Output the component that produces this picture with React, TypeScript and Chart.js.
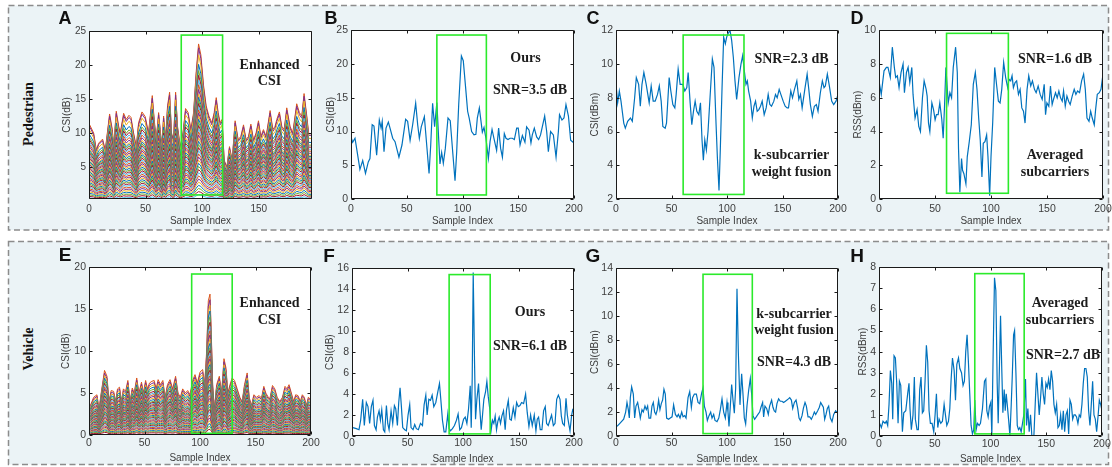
import React, { useEffect, useRef } from 'react';
import { Chart, registerables } from 'chart.js';
Chart.register(...registerables);

// ---------------- data (sample index, value) ----------------
const enhancedPedEnvelope: number[][] = [
  [0.6, 11.2], [4.1, 10], [6.5, 7.5], [8.5, 8.5], [12, 9.1], [14.4, 7.5], [18.2, 12.8], [20.6, 10.5], [21.8, 8],
  [24.1, 13.2], [26.2, 11], [27.6, 10], [30.6, 12.9], [32.9, 12], [35.3, 12.6], [37.1, 12.3], [39.4, 10], [41.8, 8],
  [43.8, 11.5], [46.8, 13.1], [49.7, 12.4], [52.6, 10], [55.9, 15.5], [57.6, 12], [59.4, 9], [61.5, 13], [62.9, 10.5],
  [64.4, 8], [65.9, 12.5], [67.6, 9], [69.4, 14], [71.2, 16], [72.9, 10], [74.7, 9], [76.5, 16], [78.2, 11], [80.6, 8],
  [83, 10], [85.3, 13.6], [87.6, 13], [90, 10.5], [92.4, 13], [94.7, 19], [96.8, 23.1], [98.8, 21.5], [101.2, 17],
  [103.5, 14], [105.9, 12.5], [108.5, 11.5], [110.6, 13], [112.4, 15.2], [114.1, 13], [115.9, 11.5], [117.6, 12],
  [119.4, 6], [121.8, 5], [124.1, 8], [126.5, 6], [129.1, 11.8], [131.8, 9], [134.1, 9.5], [136.5, 11.2], [138.8, 9],
  [140.9, 9.5], [143, 11.3], [145.3, 9], [147.6, 10], [149.7, 11.8], [151.8, 9.5], [154.1, 10.5], [156.5, 9.5],
  [160, 13.3], [162.4, 10.5], [164.4, 11], [165.9, 12], [168.2, 13.1], [170.3, 11], [172.4, 10.5], [174.7, 13.7],
  [177.6, 11], [180, 10], [183.5, 14.3], [185.9, 13], [188, 12.5], [190, 15.8], [192.4, 12.5], [194.1, 9.9], [197, 9.9],
];
const subcarrierGainsPed = [
  1.0, 0.975, 0.93, 0.87, 0.83, 0.8, 0.77, 0.74, 0.71, 0.68, 0.66, 0.64, 0.62, 0.6, 0.58, 0.56, 0.54, 0.52, 0.5,
  0.48, 0.46, 0.44, 0.42, 0.4, 0.38, 0.36, 0.34, 0.32, 0.3, 0.28, 0.26, 0.24, 0.22, 0.2, 0.18, 0.16, 0.14, 0.12,
  0.1, 0.08, 0.06, 0.04,
];
const oursPed: number[][] = [
  [0, 9.2], [1.5, 8.4], [3.6, 9.0], [8, 4.4], [10.5, 5.7], [13, 3.8], [15.5, 5.5], [17, 6], [19, 11], [20.6, 10.8],
  [23, 6.5], [25.4, 11.7], [27, 10.5], [28, 11.5], [29.6, 7], [31.4, 10.5], [33.5, 11.4], [35, 10.5], [37.4, 9],
  [39.5, 8.5], [43, 6.2], [45.7, 8], [49, 11.8], [50.8, 11.5], [53, 8.7], [55.3, 11], [58, 14.2], [59.8, 11],
  [61.3, 9], [63, 10.7], [65.8, 12.2], [67.9, 8], [70, 3.8], [71.5, 8], [73.2, 14.2], [75, 10.7], [77, 14.3],
  [78.6, 9], [79.8, 5.2], [81.3, 6.9], [82.8, 5.3], [84.6, 7.5], [87, 12], [89, 11.6], [91.2, 7], [93.3, 2.7],
  [94.8, 7], [96.6, 14], [99, 21.2], [100.7, 20.5], [102.8, 16.5], [104.6, 13], [106, 12], [108.2, 10], [110.3, 9.5],
  [112, 9.6], [113.3, 12], [115.1, 13.5], [116.6, 11.5], [117.8, 9.9], [119.3, 10.6], [121, 9], [123.2, 6],
  [124.7, 8.5], [126.5, 10.3], [128.2, 9], [130.6, 7.2], [132.4, 10.5], [134.2, 7.5], [135.8, 6.2], [137.5, 9.7],
  [139, 9], [140.8, 8.8], [142.6, 9], [144.7, 9], [146.5, 8.8], [148.6, 10.5], [150, 10.5], [151.6, 8], [153.7, 9.4],
  [156, 8.4], [157.5, 10.7], [159.7, 10.2], [161.4, 8.3], [162.6, 9.5], [164.4, 10.5], [166.5, 9.2], [168.3, 8.8],
  [170, 9.5], [173.7, 12.3], [175.5, 10], [177, 7], [179, 10], [181.5, 9.5], [183.9, 6.2], [186, 10], [187, 12.5],
  [189.2, 11.7], [191, 12], [192.8, 14], [195, 12.3], [197, 8.7], [200, 8.3],
];
const kFusionPed: number[][] = [
  [0, 8.8], [1.5, 7.7], [3, 8.4], [4.5, 7.8], [7, 6.5], [8.4, 6.2], [10.5, 6.6], [13, 6.8], [14.7, 6.6], [16.8, 8],
  [18.3, 9.2], [20.4, 8.8], [21.9, 7.5], [23.4, 8.8], [25.1, 9.5], [27.2, 8.8], [29.9, 7.7], [31.7, 8.7], [33.5, 7.8],
  [35.3, 7.8], [37.4, 8.2], [39, 8.7], [40.7, 7.8], [42.2, 6.3], [44.3, 6.2], [45.5, 6.5], [47.9, 9.2], [49.4, 8.4],
  [51.2, 7.6], [53, 7.4], [54.2, 8.2], [56, 9.7], [57.8, 8.8], [60.2, 8.8], [62, 8.4], [63.8, 8.6], [65, 9.5],
  [66.8, 7.7], [68.3, 6.4], [69.8, 7.2], [71.3, 7.8], [72.8, 7.2], [74.6, 7], [76.1, 7.7], [77.5, 5.5], [78.7, 4.3],
  [80, 5.5], [81.4, 4.9], [82.9, 6], [84.7, 8], [86.8, 10.3], [88.3, 9.8], [90.1, 6.5], [91.3, 4.5], [92.8, 2.5],
  [94, 5], [95.5, 8.5], [97, 11.6], [98.5, 11.2], [99.7, 11.6], [100.9, 11.8], [102.7, 12], [104.2, 11.4],
  [105.7, 10.4], [107.2, 9], [108.7, 7.9], [110.8, 9.2], [112.6, 10], [114.1, 10.5], [115.6, 9.6], [117.1, 8.8],
  [118.3, 9], [119.5, 8.4], [121.3, 7.8], [122.8, 6.8], [124.3, 7.5], [125.7, 7.8], [127.2, 7.2], [128.7, 7.3],
  [130.2, 7.5], [131.7, 7.8], [133.5, 7], [135.3, 7.4], [137.1, 8.2], [138.6, 7.6], [140.1, 7.5], [142.2, 7.8],
  [143.7, 8.2], [145.2, 8], [147, 8.5], [148.5, 8.2], [150.6, 7.8], [152.4, 7.5], [154.2, 7.4], [155.4, 7.4],
  [157.5, 8.4], [159, 8], [160.8, 8.5], [162.9, 9], [164.7, 7.9], [166.2, 8.2], [167.7, 7.4], [170.1, 8.5],
  [172.2, 9.4], [173.7, 8.5], [175.1, 7.6], [176.9, 6.9], [178.7, 7.5], [180.5, 7.6], [182, 7.2], [184.1, 8.3],
  [185.9, 9], [187.4, 8.6], [188.6, 8.7], [190.4, 9.4], [192.2, 8.7], [194.3, 7.8], [196.1, 7.6], [198.2, 7.8], [200, 8.2],
];
const averagedPed: number[][] = [
  [0, 7], [2, 6.2], [4.5, 7.6], [6.6, 7.8], [8, 7.8], [10.1, 7.2], [11.9, 9], [13.7, 7.8], [14.9, 7.2], [16.4, 7.3],
  [17.9, 6.6], [19.7, 7.5], [21.5, 8], [22.7, 6.3], [24.5, 7.5], [26, 7.8], [27.5, 6.9], [29.3, 7.8], [30.4, 6.2],
  [32.2, 4.8], [34, 5.3], [35.5, 4.3], [37, 4], [38.8, 6], [40.3, 7], [42.1, 6.5], [43, 6.1], [44.2, 4.5], [45.4, 4],
  [47.2, 5.7], [48.7, 5.3], [50.1, 4.7], [51.3, 5], [52.8, 5], [54.3, 5.7], [56.1, 4.7], [57.3, 3.6], [58.5, 5.5],
  [59.7, 7.8], [61.8, 5.7], [63.3, 6.3], [64.8, 6], [66.3, 7.8], [68.4, 9], [69.9, 7.5], [71, 3], [72.2, 0.4],
  [73.7, 2.4], [74.6, 1.7], [75.8, 1.5], [76.7, 1.2], [77.6, 0.9], [78.8, 2.5], [80.6, 3.4], [82.4, 4.4], [84.2, 6.8],
  [86, 7.5], [87.5, 6.5], [89, 4.8], [90.4, 3.5], [91.9, 1.3], [93.1, 3.3], [94.6, 3.4], [96.1, 3.8], [97.3, 2.5],
  [98.8, 0.2], [100, 2.5], [101.5, 4.5], [103.3, 7.8], [105.1, 6.7], [106.6, 5.8], [108.1, 5.7], [109.6, 6.5],
  [111.3, 8.1], [113.1, 7.2], [114.9, 6.6], [116.1, 7.1], [117.6, 7], [118.8, 7.3], [120, 6.6], [121.5, 6.9],
  [122.9, 7], [124.5, 6.2], [126, 6.5], [127.5, 5.4], [129, 5.2], [130.4, 4.5], [132.2, 6.5], [133.7, 7.3],
  [135.5, 6.7], [137, 7], [138.8, 6.5], [140.3, 6.3], [142.1, 6.7], [143.9, 6.2], [145.7, 5.9], [147.5, 6.8],
  [148.7, 5], [149.9, 5.7], [151.6, 5.5], [153.1, 6.7], [154.6, 5.6], [155.8, 5.9], [157.6, 6.3], [159.1, 6],
  [160.6, 6.4], [162.1, 6], [163.6, 5.8], [164.8, 6.4], [166.3, 5.5], [167.8, 6.1], [169.3, 5.8], [170.7, 5.6],
  [172.5, 6.1], [174.3, 6.5], [175.8, 6.2], [177.3, 6.4], [179.1, 6.3], [180.9, 7], [182.7, 7.4], [184.2, 6.5],
  [185.7, 4.8], [187.5, 4.6], [189, 5.2], [190.4, 4.8], [192.2, 4.4], [193.4, 5.3], [194.9, 6.2], [196.7, 6.3],
  [198.2, 6.5], [200, 7.4],
];
const enhancedVehEnvelope: number[][] = [
  [1.2, 3.5], [4.2, 4.5], [7.2, 4.8], [9, 3], [11, 5], [14, 7.7], [16.2, 7], [18, 4], [20, 5.3], [22.2, 5.2], [24, 4],
  [25.7, 5.5], [27.5, 5.7], [29.3, 4], [31, 5.5], [33, 5.2], [35, 6.5], [37, 4], [39, 5.6], [40.7, 5], [43, 6.8],
  [45, 5], [47.3, 6.3], [49, 5], [51, 6.5], [52.7, 5.5], [54.5, 6.2], [56.6, 6.4], [58.7, 6.5], [60.5, 5.5],
  [62.3, 6.6], [64.4, 6], [66.5, 6.5], [68.6, 4.5], [70.7, 6], [73, 6.6], [75.4, 5.5], [78, 7], [80.2, 5], [82.3, 4.5],
  [84.4, 5.5], [86.8, 5], [88.9, 5.3], [91, 4.8], [93.4, 6.5], [95.5, 7.2], [97.6, 6.2], [100, 7.5], [102.4, 7.8],
  [104.2, 6], [106, 10], [107.5, 16], [109, 16.8], [110.2, 12], [111.4, 6], [112.9, 3], [115, 6], [117.4, 7],
  [119.5, 5], [121.6, 9.1], [123.4, 8], [125.1, 5], [127, 6], [129, 6.8], [131.1, 6.5], [133.5, 5.5], [135.9, 4.5],
  [138, 4], [140.1, 6], [142.5, 7.4], [144.3, 4.5], [146.4, 3.5], [148.5, 4.8], [150.9, 4.5], [153.3, 4.7],
  [155.4, 4.4], [157.5, 5.8], [159.3, 5], [161.1, 4.6], [162.9, 4.3], [165.3, 5.9], [167.4, 5.5], [169.5, 4.5],
  [171.9, 4], [174.3, 4.5], [176.6, 5.8], [178.4, 5.5], [180.2, 6], [182.3, 5], [184.4, 4], [186.2, 4.8],
  [188.3, 4.7], [190.4, 4], [192.2, 4.8], [194, 4.5], [195.8, 3.5], [197.6, 4.5], [200, 4.2],
];
const subcarrierGainsVeh = [
  1.0, 0.96, 0.92, 0.88, 0.84, 0.8, 0.77, 0.74, 0.71, 0.68, 0.65, 0.62, 0.6, 0.58, 0.56, 0.54, 0.52, 0.5, 0.48,
  0.46, 0.44, 0.42, 0.4, 0.38, 0.36, 0.34, 0.32, 0.3, 0.28, 0.26, 0.24, 0.22, 0.2, 0.18, 0.16, 0.14, 0.12, 0.1,
  0.08, 0.06, 0.04,
];
const oursVeh: number[][] = [
  [0.9, 0.8], [3.9, 0.7], [6.3, 0.6], [7.8, 1.5], [9.6, 3.5], [11.1, 1], [12.9, 3.2], [14.4, 2.8], [15.9, 1.2],
  [17.4, 2.8], [18.9, 3.4], [20.2, 1], [21.7, 0.6], [22.9, 1.8], [24.4, 2.4], [25.6, 1.5], [26.8, 2.5], [28.3, 0.6],
  [29.5, 0.4], [31, 2.9], [32.2, 1.2], [33.4, 0.6], [35.2, 2.4], [36.7, 1.2], [38.2, 2.9], [39.4, 2.6], [40.9, 1],
  [42.1, 3.2], [43.3, 4.6], [44.5, 2.8], [45.7, 0.8], [47.5, 0.6], [49, 0.5], [50.5, 2], [52, 3], [53.2, 0.8],
  [55, 0.6], [56.5, 1.1], [58, 0.7], [59.8, 0.6], [61.7, 1.2], [63.5, 1], [65, 3], [66.5, 3.9], [67.7, 2],
  [69.2, 3.5], [70.7, 3.4], [72.2, 3.9], [73.7, 2.8], [75.5, 3.2], [77.3, 4.2], [78.8, 5], [80, 3.5], [81.5, 1.5],
  [83, 0.4], [84.5, 0.4], [86.3, 2.1], [87.5, 0.7], [88.7, 0.5], [90.5, 0.7], [92.3, 1], [94.1, 1.5], [95.6, 2.1],
  [97.1, 0.6], [98.6, 0.8], [100.5, 1.6], [102, 1.8], [103.5, 1.2], [105, 2.6], [106.5, 4.8], [107.4, 0.8],
  [108.3, 5.5], [109.2, 15.6], [110.4, 7], [111.3, 1.6], [112.5, 3.5], [114, 5], [115.2, 2.5], [116.4, 0.6],
  [117.6, 2], [118.8, 3.5], [120.3, 4.2], [121.5, 5.2], [122.7, 3.8], [124.2, 2.5], [125.4, 0.6], [126.6, 1.5],
  [127.8, 1.2], [129, 1.9], [130.2, 0.6], [131.4, 1.4], [132.6, 1.8], [133.8, 1.2], [135, 1.9], [136.5, 2.4],
  [138, 0.6], [139.2, 2.5], [140.8, 3.4], [142.2, 1.6], [143.5, 1.5], [145.3, 2.7], [146.8, 1.8], [148.3, 3.2],
  [149.8, 2.8], [151.3, 2.9], [152.8, 3.2], [154.6, 3.1], [156.4, 4], [157.9, 2.2], [159.4, 0.9], [160.9, 2],
  [162.4, 1], [164.2, 2], [165.7, 0.5], [166.9, 1.6], [168.1, 1.8], [169.6, 0.6], [171.1, 0.6], [172.6, 2.4],
  [174.1, 2.8], [175.3, 1.2], [176.8, 1], [178.3, 1.5], [179.8, 2], [181.4, 1], [182.9, 1.2], [184.4, 3.5],
  [185.9, 3.9], [187.4, 3.5], [188.6, 1.9], [189.8, 1.2], [191.3, 1], [192.8, 3.6], [194, 2], [195.2, 1.2],
  [196.4, 0.5], [197.9, 2], [198.8, 2.5], [200, 2.3],
];
const kFusionVeh: number[][] = [
  [0.9, 0.8], [3.9, 1.1], [6.9, 1.4], [8.7, 2], [9.9, 2.8], [11.1, 2.2], [12, 1.5], [12.9, 3.2], [14.1, 4.1],
  [15.6, 3.5], [16.8, 1.5], [18, 2.5], [19.5, 2.8], [20.7, 2.2], [21.9, 1.5], [23.4, 2.2], [24.6, 2], [26.1, 2.5],
  [27.3, 2.2], [28.5, 2.5], [29.7, 1.5], [31.2, 1.5], [32.4, 2.5], [33.6, 2.8], [34.8, 2], [36, 1.8], [37.2, 2.2],
  [38.4, 3], [39.6, 2.2], [40.8, 2.7], [42, 3], [43.2, 3.9], [44.4, 3.5], [45.6, 1.5], [47.4, 1.4], [48.9, 1.5],
  [50.5, 1.6], [51.9, 2.6], [53.5, 1.8], [55, 1.6], [56.2, 1.8], [57.7, 1.5], [59.2, 2], [60.4, 1.6], [61.9, 1.7],
  [63.1, 1.5], [64.9, 3.2], [66.4, 3.7], [67.9, 2.4], [69, 3.2], [70.6, 3.5], [72.4, 3.5], [73.9, 2.8], [75.4, 2.7],
  [77.2, 3.6], [78.4, 4], [79.6, 2.5], [81.1, 2], [82.3, 1.3], [83.8, 1.7], [85.3, 2], [86.5, 1.5], [88, 1.8],
  [89.2, 1.3], [91, 1.2], [92.6, 1.5], [94, 2.2], [95.5, 3.1], [97, 2], [98.5, 1.5], [100, 2.8], [100.9, 2],
  [101.8, 0.8], [103, 2.5], [104.2, 4.3], [105.4, 3], [106.6, 1.9], [107.8, 4], [109, 12.3], [110.2, 7],
  [111.7, 2.6], [113.2, 5.2], [114.4, 3.5], [115.6, 1.5], [116.8, 1], [118, 2.5], [119.5, 3.8], [121, 4.8],
  [122.2, 3.5], [123.4, 1.7], [124.9, 1.4], [126.4, 1.6], [127.9, 1.8], [129.4, 2], [130.6, 2.4], [132.1, 2.8],
  [133, 1.6], [134.2, 2.5], [135.7, 2.3], [137.2, 1.8], [138.4, 2.5], [140.2, 3], [141.4, 2.4], [142.6, 2.1],
  [143.8, 2], [145, 2.7], [146.5, 3.1], [148, 2.9], [149.5, 2.9], [151, 2.8], [152.6, 2.9], [154, 3], [155.3, 3.1],
  [156.5, 3.2], [158, 3], [159.2, 2.3], [160.7, 2.8], [162.2, 3], [163.7, 2.3], [164.9, 1.5], [166.1, 1.3],
  [167.6, 1.7], [168.8, 2.3], [170.3, 2.8], [171.5, 2.5], [173, 1.6], [174.5, 1.6], [176, 1.4], [177.5, 1.7],
  [178.7, 2], [179.9, 1.8], [181.7, 2.1], [183.2, 2.4], [184.4, 2.8], [185.6, 2.6], [186.8, 2.4], [188, 1.4],
  [189.2, 1.8], [190.4, 2.3], [191.6, 2.5], [193.1, 1.5], [194.6, 1.2], [196.1, 1.8], [197.9, 2.1], [200, 1.9],
];
const averagedVeh: number[][] = [
  [0.6, 0.6], [2.1, 0.4], [3.6, 0.7], [5.4, 0.6], [6.6, 0.7], [7.8, 0.5], [9, 1.5], [10.2, 3.1], [11.4, 2.5],
  [12.3, 0.8], [13.5, 3.8], [14.7, 3.7], [15.9, 2.5], [17.1, 0.6], [18.3, 2.6], [19.5, 2.4], [21, 0.2], [22.2, 1.1],
  [24, 1.2], [25.7, 2], [26.9, 2.5], [27.8, 1.3], [29, 0.3], [30.5, 1], [31.7, 2.8], [32.6, 0.8], [34.1, 0.3],
  [35.3, 0.3], [36.5, 2.2], [37.7, 2.8], [38.9, 1.1], [40.1, 1.2], [41.3, 2.6], [42.5, 4.3], [43.7, 3.5],
  [44.9, 1.2], [46.1, 0.6], [47.6, 0.6], [49.1, 0.2], [50.3, 1], [51.5, 2], [52.7, 0.4], [53.9, 0.8], [55.4, 0.6],
  [56.9, 0.7], [58.4, 1.5], [59.6, 1], [60.8, 0.5], [62.3, 0.7], [63.5, 1.3], [64.7, 2.7], [65.9, 3.7], [67.4, 3.1],
  [68.6, 1.7], [69.8, 3.4], [71.3, 3.7], [72.5, 3.2], [74, 3], [75.4, 2.4], [76.6, 2.6], [77.8, 4], [79, 4.8],
  [80.2, 3.5], [81.4, 2], [82.6, 0.5], [83.8, 0.1], [85, 0.3], [85.9, 1.7], [87.1, 0.3], [88.3, 0.6], [89.8, 0.5],
  [91, 0.6], [92.8, 1.3], [94.6, 2.6], [95.8, 2.7], [96.7, 1.2], [97.9, 0.9], [99.1, 1.4], [100.3, 1.6], [101.2, 0],
  [102.4, 4], [103.6, 7.5], [104.8, 6.9], [106, 2.5], [106.9, 0.6], [108.1, 3.5], [109, 5.7], [110.2, 3], [111.1, 1.1],
  [112.3, 2.2], [113.2, 1.2], [114.1, 2], [115, 1.5], [116.2, 0.8], [117.4, 0], [118.6, 1.5], [119.5, 2.8],
  [120.7, 4.8], [121.6, 5], [122.8, 3], [124, 0.5], [125.1, 0.3], [126.3, 0.4], [127.5, 0.2], [128.7, 0.6], [129.9, 1],
  [131.4, 2.7], [132.3, 0.5], [133.5, 1.3], [134.7, 0.2], [135.9, 1], [137.1, 0], [138.9, 0], [140.1, 1.5],
  [141.3, 3], [142.5, 2], [143.7, 1], [144.9, 1.8], [146.1, 2.8], [147.3, 2], [148.5, 1.5], [149.7, 2.5],
  [150.9, 2.3], [152.1, 2.7], [153.3, 2.2], [154.5, 3.1], [155.7, 2.6], [156.9, 1.5], [158.1, 1.1], [159.3, 1.5],
  [160.5, 0.4], [161.7, 0.5], [162.9, 1], [164.1, 0.3], [165.3, 1.2], [166.5, 0.2], [167.7, 1], [168.9, 1.2],
  [170.1, 0.1], [171.3, 1.7], [172.5, 1.5], [173.7, 0.8], [174.9, 1], [176, 1], [177.2, 0.9], [178.4, 0.6],
  [179.6, 1], [180.8, 0.9], [182, 1.5], [183.2, 2.5], [184.4, 3.2], [185.6, 3.2], [186.8, 2.8], [188, 1.2],
  [189.2, 0.5], [190.4, 1.5], [191.6, 2.6], [192.8, 1], [194, 0.8], [195.2, 0.2], [196.4, 0.9], [197.6, 1.7],
  [198.8, 1.5], [200, 1.2],
];

// highlight boxes: [xStart, xEnd, yBottom, yTop]
const boxA = [81.5, 118, 0.9, 24.4];
const boxB = [77, 121.4, 0.6, 24.3];
const boxC = [60.5, 115.3, 2.27, 11.72];
const boxD = [60.3, 115.5, 0.34, 9.82];
const boxE = [92.5, 129, 0.2, 19.2];
const boxF = [87.5, 124.5, 0.2, 15.4];
const boxG = [78.4, 122.8, 0.2, 13.5];
const boxH = [85.9, 130.2, 0.1, 7.7];

// tick values
const xTicks200 = [0, 50, 100, 150, 200];
const xTicksA = [0, 50, 100, 150];
const yTicksA = [5, 10, 15, 20, 25];
const yTicksB = [0, 5, 10, 15, 20, 25];
const yTicksC = [2, 4, 6, 8, 10, 12];
const yTicksD = [0, 2, 4, 6, 8, 10];
const yTicksE = [0, 5, 10, 15, 20];
const yTicksF = [0, 2, 4, 6, 8, 10, 12, 14, 16];
const yTicksG = [0, 2, 4, 6, 8, 10, 12, 14];
const yTicksH = [0, 1, 2, 3, 4, 5, 6, 7, 8];

const matlabColors = ['#D95319', '#7E2F8E', '#EDB120', '#0072BD', '#77AC30', '#A2142F', '#4DBEEE'];
const lineBlue = '#0072BD';
const tickColor = '#3d3d3d';
const sansFont = '"Liberation Sans", Arial, Helvetica, sans-serif';
const serifFont = '"Liberation Serif", "Times New Roman", serif';

// ---------------- panel layout ----------------
type Spec = {
  key: string;
  l: number; t: number; w: number; h: number;
  axW: number; axH: number;
  xMax: number; xTicks: number[];
  yMin: number; yMax: number; yTicks: number[];
  yTitle: string; yTitleSize: number; xTitleSize: number; tickSize: number; xTickPad: number;
  box: number[];
  datasets: any[];
};

const single = (pts: number[][]) => [{
  data: pts.map(([x, y]) => ({ x, y })),
  borderColor: lineBlue, borderWidth: 1.2, pointRadius: 0, tension: 0, fill: false,
}];
const multi = (env: number[][], gains: number[]) => gains.map((g, k) => ({
  data: env.map(([x, y]) => ({ x, y: y * g })),
  borderColor: matlabColors[k % matlabColors.length], borderWidth: 1, pointRadius: 0, tension: 0, fill: false,
})).reverse();

const specs: Spec[] = [
  { key: 'A', l: 89, t: 30, w: 223, h: 169, axW: 28, axH: 28, xMax: 197, xTicks: xTicksA, yMin: 0.3, yMax: 25, yTicks: yTicksA,
    yTitle: 'CSI(dB)', yTitleSize: 10, xTitleSize: 10, tickSize: 10, xTickPad: 4, box: boxA, datasets: multi(enhancedPedEnvelope, subcarrierGainsPed) },
  { key: 'B', l: 351, t: 29, w: 223, h: 170, axW: 26, axH: 28, xMax: 200, xTicks: xTicks200, yMin: 0, yMax: 25, yTicks: yTicksB,
    yTitle: 'CSI(dB)', yTitleSize: 10, xTitleSize: 10, tickSize: 10.5, xTickPad: 3.5, box: boxB, datasets: single(oursPed) },
  { key: 'C', l: 616, t: 29, w: 222, h: 170, axW: 27, axH: 28, xMax: 200, xTicks: xTicks200, yMin: 2, yMax: 12, yTicks: yTicksC,
    yTitle: 'CSI(dBm)', yTitleSize: 10, xTitleSize: 10, tickSize: 10.5, xTickPad: 3.5, box: boxC, datasets: single(kFusionPed) },
  { key: 'D', l: 879, t: 29, w: 224, h: 170, axW: 27, axH: 28, xMax: 200, xTicks: xTicks200, yMin: 0, yMax: 10, yTicks: yTicksD,
    yTitle: 'RSS(dBm)', yTitleSize: 10, xTitleSize: 10, tickSize: 10.5, xTickPad: 3.5, box: boxD, datasets: single(averagedPed) },
  { key: 'E', l: 89, t: 266, w: 222, h: 169, axW: 29, axH: 29, xMax: 200, xTicks: xTicks200, yMin: 0, yMax: 20, yTicks: yTicksE,
    yTitle: 'CSI(dB)', yTitleSize: 10, xTitleSize: 10, tickSize: 10.5, xTickPad: 1.5, box: boxE, datasets: multi(enhancedVehEnvelope, subcarrierGainsVeh) },
  { key: 'F', l: 352, t: 267, w: 222, h: 169, axW: 28, axH: 29, xMax: 200, xTicks: xTicks200, yMin: 0, yMax: 16, yTicks: yTicksF,
    yTitle: 'CSI(dB)', yTitleSize: 10, xTitleSize: 10, tickSize: 10.5, xTickPad: 1, box: boxF, datasets: single(oursVeh) },
  { key: 'G', l: 616, t: 267, w: 222, h: 169, axW: 27, axH: 29, xMax: 200, xTicks: xTicks200, yMin: 0, yMax: 14, yTicks: yTicksG,
    yTitle: 'CSI(dBm)', yTitleSize: 10, xTitleSize: 10, tickSize: 10.5, xTickPad: 1, box: boxG, datasets: single(kFusionVeh) },
  { key: 'H', l: 879, t: 266, w: 223, h: 170, axW: 22, axH: 29, xMax: 200, xTicks: xTicks200, yMin: 0, yMax: 8, yTicks: yTicksH,
    yTitle: 'RSS(dBm)', yTitleSize: 10, xTitleSize: 10, tickSize: 10.5, xTickPad: 1.5, box: boxH, datasets: single(averagedVeh) },
];

const PAD_T = 8;
const PAD_R = 14;

function Panel({ s }: { s: Spec }) {
  const ref = useRef<HTMLCanvasElement | null>(null);
  const cw = s.axW + s.w + PAD_R;
  const ch = PAD_T + s.h + s.axH;
  useEffect(() => {
    if (!ref.current) return;
    const framePlugin = {
      id: 'frame' + s.key,
      beforeDraw(chart: any) {
        const { ctx, chartArea: a } = chart;
        ctx.save();
        ctx.fillStyle = '#ffffff';
        ctx.fillRect(a.left, a.top, a.right - a.left, a.bottom - a.top);
        ctx.restore();
      },
      afterDatasetsDraw(chart: any) {
        const { ctx, scales } = chart;
        const x0 = scales.x.getPixelForValue(s.box[0]);
        const x1 = scales.x.getPixelForValue(s.box[1]);
        const y0 = scales.y.getPixelForValue(s.box[2]);
        const y1 = scales.y.getPixelForValue(s.box[3]);
        ctx.save();
        ctx.strokeStyle = '#2bea2b';
        ctx.lineWidth = 1.6;
        ctx.strokeRect(x0, y1, x1 - x0, y0 - y1);
        ctx.restore();
      },
      afterDraw(chart: any) {
        const { ctx, chartArea: a, scales } = chart;
        const L = Math.round(a.left) + 0.5, R = Math.round(a.right) - 0.5;
        const T = Math.round(a.top) + 0.5, B = Math.round(a.bottom) - 0.5;
        ctx.save();
        ctx.strokeStyle = '#1a1a1a';
        ctx.lineWidth = 1;
        ctx.beginPath();
        ctx.rect(L, T, R - L, B - T);
        const tl = 3;
        scales.x.ticks.forEach((tk: any) => {
          const px = Math.round(scales.x.getPixelForValue(tk.value)) + 0.5;
          ctx.moveTo(px, B); ctx.lineTo(px, B - tl);
          ctx.moveTo(px, T); ctx.lineTo(px, T + tl);
        });
        scales.y.ticks.forEach((tk: any) => {
          const py = Math.round(scales.y.getPixelForValue(tk.value)) + 0.5;
          ctx.moveTo(L, py); ctx.lineTo(L + tl, py);
          ctx.moveTo(R, py); ctx.lineTo(R - tl, py);
        });
        ctx.stroke();
        ctx.restore();
      },
    };
    const chart = new Chart(ref.current, {
      type: 'line',
      data: { datasets: s.datasets },
      options: {
        animation: false,
        responsive: false,
        maintainAspectRatio: false,
        events: [],
        layout: { padding: { top: PAD_T, right: PAD_R, left: 0, bottom: 0 }, autoPadding: false } as any,
        plugins: { legend: { display: false }, tooltip: { enabled: false } },
        scales: {
          x: {
            type: 'linear', min: 0, max: s.xMax,
            grid: { display: false, drawTicks: false },
            border: { display: false },
            ticks: { font: { family: sansFont, size: s.tickSize }, color: tickColor, padding: s.xTickPad, maxRotation: 0, autoSkip: false },
            afterBuildTicks: (sc: any) => { sc.ticks = s.xTicks.map((v) => ({ value: v })); },
            afterFit: (sc: any) => { sc.height = s.axH; },
            title: { display: true, text: 'Sample Index', font: { family: sansFont, size: s.xTitleSize }, color: tickColor, padding: 0 },
          },
          y: {
            type: 'linear', min: s.yMin, max: s.yMax,
            grid: { display: false, drawTicks: false },
            border: { display: false },
            ticks: { font: { family: sansFont, size: s.tickSize }, color: tickColor, padding: 3, autoSkip: false },
            afterBuildTicks: (sc: any) => { sc.ticks = s.yTicks.map((v) => ({ value: v })); },
            afterFit: (sc: any) => { sc.width = s.axW; },
            title: { display: true, text: s.yTitle, font: { family: sansFont, size: s.yTitleSize }, color: tickColor, padding: 0 },
          },
        },
      } as any,
      plugins: [framePlugin],
    });
    return () => chart.destroy();
  }, []);
  return (
    <canvas
      ref={ref}
      width={cw}
      height={ch}
      style={{ position: 'absolute', left: s.l - s.axW, top: s.t - PAD_T, width: cw, height: ch }}
    />
  );
}

type Note = { text: string; x: number; y: number };
const notes: Note[] = [
  { text: 'Enhanced', x: 269.5, y: 64.5 }, { text: 'CSI', x: 269.5, y: 80.5 },
  { text: 'Ours', x: 525.5, y: 58 }, { text: 'SNR=3.5 dB', x: 530, y: 90 },
  { text: 'SNR=2.3 dB', x: 791.5, y: 58.5 }, { text: 'k-subcarrier', x: 791.5, y: 155 }, { text: 'weight fusion', x: 791.5, y: 171.5 },
  { text: 'SNR=1.6 dB', x: 1055, y: 58.5 }, { text: 'Averaged', x: 1055, y: 155 }, { text: 'subcarriers', x: 1055, y: 171.5 },
  { text: 'Enhanced', x: 269.5, y: 303 }, { text: 'CSI', x: 269.5, y: 319.5 },
  { text: 'Ours', x: 530, y: 312 }, { text: 'SNR=6.1 dB', x: 530, y: 346 },
  { text: 'k-subcarrier', x: 794, y: 313.5 }, { text: 'weight fusion', x: 794, y: 330 }, { text: 'SNR=4.3 dB', x: 794, y: 362 },
  { text: 'Averaged', x: 1060, y: 303 }, { text: 'subcarriers', x: 1060, y: 319.5 }, { text: 'SNR=2.7 dB', x: 1063, y: 355 },
];
const letters: Note[] = [
  { text: 'A', x: 65, y: 17.5 }, { text: 'B', x: 331, y: 17.5 }, { text: 'C', x: 593, y: 17.5 }, { text: 'D', x: 857, y: 17.5 },
  { text: 'E', x: 65, y: 254 }, { text: 'F', x: 329, y: 255 }, { text: 'G', x: 593, y: 255 }, { text: 'H', x: 857, y: 254.5 },
];
const rowLabels: Note[] = [
  { text: 'Pedestrian', x: 28.5, y: 113.5 },
  { text: 'Vehicle', x: 28.5, y: 349 },
];

export default function App() {
  return (
    <div style={{ position: 'absolute', left: 0, top: 0, width: 1112, height: 467, background: '#ffffff', overflow: 'hidden' }}>
      <svg width={1112} height={467} style={{ position: 'absolute', left: 0, top: 0 }}>
        <rect x={8.5} y={5.5} width={1100} height={224.5} fill="#ebf3f6" stroke="#8c8c8c" strokeWidth={1.5} strokeDasharray="6 3.5" />
        <rect x={8.5} y={241.5} width={1100} height={223} fill="#ebf3f6" stroke="#8c8c8c" strokeWidth={1.5} strokeDasharray="6 3.5" />
      </svg>
      {specs.map((s) => <Panel key={s.key} s={s} />)}
      {notes.map((n, i) => (
        <div key={'n' + i} style={{ position: 'absolute', left: n.x, top: n.y, transform: 'translate(-50%, -50%)', whiteSpace: 'nowrap',
          fontFamily: serifFont, fontWeight: 'bold', fontSize: 14, lineHeight: 1, color: '#1c1c1c' }}>{n.text}</div>
      ))}
      {letters.map((n, i) => (
        <div key={'l' + i} style={{ position: 'absolute', left: n.x, top: n.y, transform: 'translate(-50%, -50%)', whiteSpace: 'nowrap',
          fontFamily: sansFont, fontWeight: 'bold', fontSize: i < 4 ? 18 : 19, lineHeight: 1, color: '#111' }}>{n.text}</div>
      ))}
      {rowLabels.map((n, i) => (
        <div key={'r' + i} style={{ position: 'absolute', left: n.x, top: n.y, transform: 'translate(-50%, -50%) rotate(-90deg)', whiteSpace: 'nowrap',
          fontFamily: serifFont, fontWeight: 'bold', fontSize: 14, lineHeight: 1, color: '#111' }}>{n.text}</div>
      ))}
    </div>
  );
}
